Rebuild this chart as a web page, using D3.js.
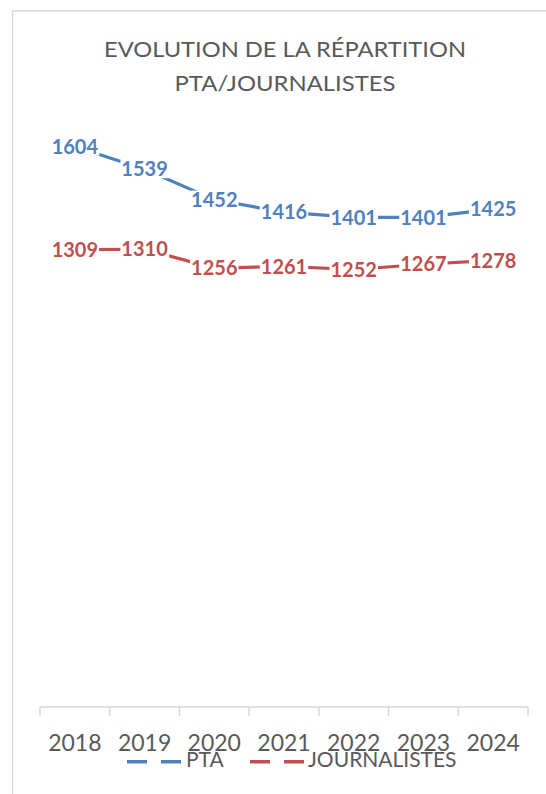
<!DOCTYPE html>
<html>
<head>
<meta charset="utf-8">
<script src="https://cdn.jsdelivr.net/npm/d3@7"></script>
<style>
  html, body { margin: 0; padding: 0; background: #ffffff; }
  svg { display: block; }
</style>
</head>
<body>
<script>
// ---- Data ----
const years = ["2018", "2019", "2020", "2021", "2022", "2023", "2024"];
const pta = [1604, 1539, 1452, 1416, 1401, 1401, 1425];
const journalistes = [1309, 1310, 1256, 1261, 1252, 1267, 1278];
const seriesNames = ["PTA", "JOURNALISTES"];
const seriesColors = ["#4F81BD", "#C0504D"];
const titleLines = ["EVOLUTION DE LA RÉPARTITION", "PTA/JOURNALISTES"];

const W = 546, H = 794;
const svg = d3.select("body").append("svg").attr("width", W).attr("height", H);

// chart frame (extends beyond the visible window)
svg.append("rect")
  .attr("x", 12.5).attr("y", 11)
  .attr("width", 560).attr("height", 820)
  .attr("fill", "#fff").attr("stroke", "#d9d9d9").attr("stroke-width", 1.5);

// title
const titleWidths = [362, 221];
svg.append("g").selectAll("text").data(titleLines).join("text")
  .attr("x", 285).attr("y", (d, i) => i === 0 ? 57 : 90.5)
  .attr("text-anchor", "middle")
  .attr("font-family", "Lato")
  .attr("font-size", 21)
  .attr("textLength", (d, i) => titleWidths[i])
  .attr("lengthAdjust", "spacingAndGlyphs")
  .attr("fill", "#595959")
  .text(d => d);

// scales
const x = d3.scaleBand().domain(years).range([40, 528]).paddingInner(0).paddingOuter(0);
const y = d3.scaleLinear().domain([0, 1800]).range([707, 78]);
const cx = d => x(d) + x.bandwidth() / 2;

// x axis
const axisG = svg.append("g").attr("transform", "translate(0,707)");
axisG.append("line").attr("x1", 40).attr("x2", 528).attr("y1", 0).attr("y2", 0)
  .attr("stroke", "#d9d9d9").attr("stroke-width", 1.5);
const tickPos = years.map(d => x(d)).concat([x.range()[1]]);
axisG.selectAll("line.tick").data(tickPos).join("line").attr("class", "tick")
  .attr("x1", d => d).attr("x2", d => d).attr("y1", 0).attr("y2", 9)
  .attr("stroke", "#d9d9d9").attr("stroke-width", 1.5);
svg.append("g").selectAll("text").data(years).join("text")
  .attr("x", d => cx(d)).attr("y", 750.5)
  .attr("text-anchor", "middle")
  .attr("font-family", "Lato").attr("font-size", 23)
  .attr("fill", "#595959")
  .text(d => d);

// lines
const series = [pta, journalistes];
const line = d3.line().x((d, i) => cx(years[i])).y(d => y(d));
series.forEach((vals, si) => {
  svg.append("path").datum(vals)
    .attr("d", line)
    .attr("fill", "none")
    .attr("stroke", seriesColors[si])
    .attr("stroke-width", 3.2)
    .attr("stroke-linecap", "round")
    .attr("stroke-linejoin", "round");
});

// data labels (centered on points, white background)
series.forEach((vals, si) => {
  const g = svg.append("g");
  vals.forEach((v, i) => {
    const lg = g.append("g");
    const t = lg.append("text")
      .attr("x", cx(years[i])).attr("y", y(v) + 7.2)
      .attr("text-anchor", "middle")
      .attr("font-family", "Lato").attr("font-weight", "bold").attr("font-size", 20)
      .attr("fill", seriesColors[si])
      .text(v);
    const bb = t.node().getBBox();
    lg.insert("rect", "text")
      .attr("x", bb.x - 1).attr("y", y(v) - 9)
      .attr("width", bb.width + 2).attr("height", 18)
      .attr("fill", "#fff");
  });
});

// legend
const legendItems = [
  { name: seriesNames[0], color: seriesColors[0], x1: 127, x2: 181, tx: 186 },
  { name: seriesNames[1], color: seriesColors[1], x1: 250, x2: 304, tx: 308 }
];
const lg = svg.append("g");
legendItems.forEach(it => {
  lg.append("line").attr("x1", it.x1).attr("x2", it.x2).attr("y1", 761.7).attr("y2", 761.7)
    .attr("stroke", it.color).attr("stroke-width", 3.5)
    .attr("stroke-dasharray", "20,14");
  lg.append("text").attr("x", it.tx).attr("y", 767.3)
    .attr("font-family", "Lato").attr("font-size", 21)
    .attr("fill", "#595959").text(it.name);
});
</script>
</body>
</html>
